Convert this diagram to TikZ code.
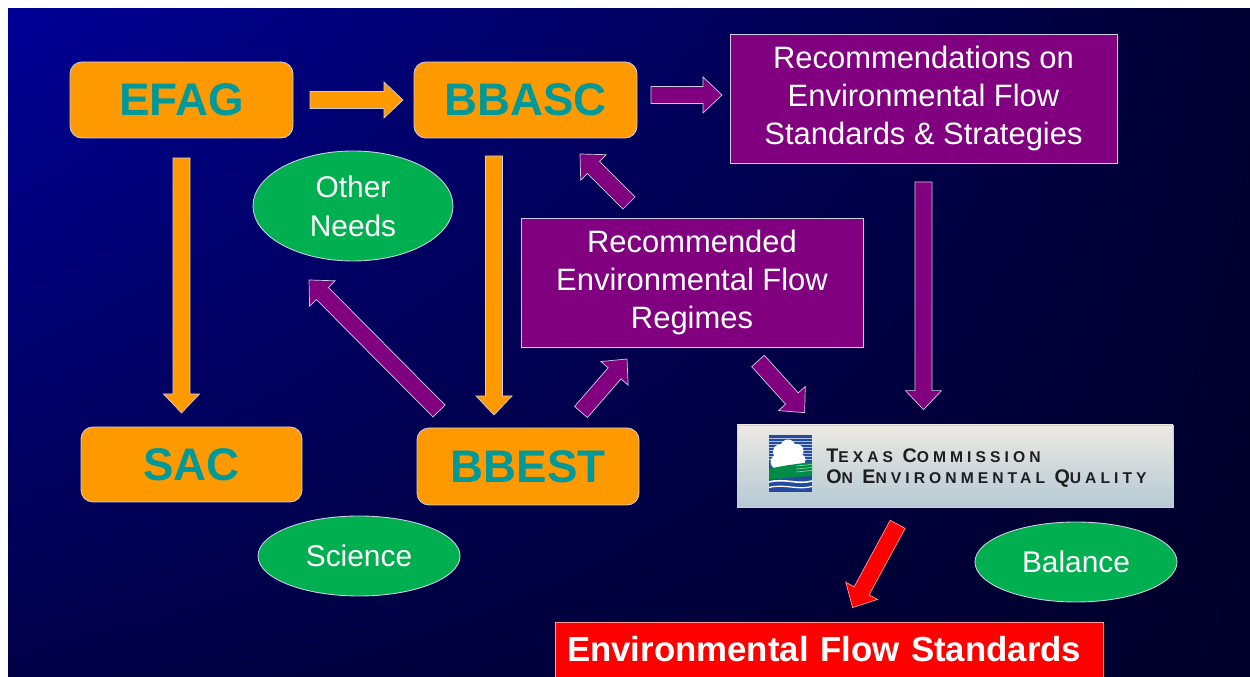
\documentclass[tikz,border=0pt]{standalone}
\usepackage{fontspec}
\setmainfont{Liberation Sans}
\newfontfamily\tceqfont[LetterSpace=26]{Liberation Sans}
\usepackage{tikz}
\usetikzlibrary{
  calc,
  positioning,
  shadings,
  shapes.geometric}

\definecolor{bgtl}{RGB}{0,0,150}
\definecolor{bgtr}{RGB}{0,0,50}
\definecolor{bgbl}{RGB}{0,0,72}
\definecolor{bgbr}{RGB}{0,0,42}
\definecolor{agencyorange}{RGB}{255,153,0}
\definecolor{agencyteal}{RGB}{0,153,153}
\definecolor{reportpurple}{RGB}{128,0,128}
\definecolor{themegreen}{RGB}{0,176,80}
\definecolor{edgegrey}{RGB}{205,205,225}
\definecolor{tceqlight}{RGB}{236,233,226}
\definecolor{tceqsky}{RGB}{182,202,212}
\definecolor{logoblue}{RGB}{35,75,160}
\definecolor{logogreen}{RGB}{0,140,70}
\definecolor{tceqtext}{RGB}{30,30,30}

\tikzset{
  agency/.style={rectangle, rounded corners=0.24cm, fill=agencyorange, draw=edgegrey,
    line width=0.5pt, text=agencyteal, inner sep=0pt, outer sep=0pt,
    font=\fontsize{26}{30}\selectfont\bfseries},
  report/.style={rectangle, fill=reportpurple, draw=edgegrey, line width=0.5pt,
    text=white, align=center, inner sep=0pt, outer sep=0pt,
    font=\fontsize{17.6}{21.5}\selectfont},
  theme/.style={ellipse, fill=themegreen, draw=edgegrey, line width=0.5pt,
    text=white, align=center, inner sep=0pt, outer sep=0pt,
    font=\fontsize{17}{22}\selectfont},
  orangearrow/.style={fill=agencyorange, draw=edgegrey, line width=0.4pt},
  purplearrow/.style={fill=reportpurple, draw=edgegrey, line width=0.4pt},
  redarrow/.style={fill=red, draw=red!40!white, line width=0.4pt}
}

% block arrow: style, from, to, cut at start, cut at end
\newcommand{\flowarrow}[5]{%
  \coordinate (fa-a) at ($(#2)!#4!(#3)$);
  \coordinate (fa-b) at ($(#3)!#5!(#2)$);
  \coordinate (fa-c) at ($(fa-b)!0.38cm!(fa-a)$);
  \filldraw[#1] ($(fa-a)!0.17cm!90:(fa-b)$) -- ($(fa-c)!0.17cm!90:(fa-b)$)
    -- ($(fa-c)!0.36cm!90:(fa-b)$) -- (fa-b) -- ($(fa-c)!0.36cm!-90:(fa-b)$)
    -- ($(fa-c)!0.17cm!-90:(fa-b)$) -- ($(fa-a)!0.17cm!-90:(fa-b)$) -- cycle;
}
\newcommand{\tcap}[2]{{\fontsize{11.2}{13}\selectfont #1}{\fontsize{8.9}{10}\selectfont #2}}

\begin{document}
\begin{tikzpicture}
  \fill[white] (0,0) rectangle (25,13.54);
  \shade[upper left=bgtl, upper right=bgtr, lower left=bgbl, lower right=bgbr]
    (0.16,0) rectangle (25,13.36);
  \useasboundingbox (0,0) rectangle (25,13.54);

  % agencies
  \node[agency, minimum width=4.46cm, minimum height=1.52cm] (efag) at (3.63,11.54) {EFAG};
  \node[agency, minimum width=4.46cm, minimum height=1.52cm] (bbasc) at (10.51,11.54) {BBASC};
  \node[agency, minimum width=4.42cm, minimum height=1.50cm] (sac) at (3.83,4.25) {SAC};
  \node[agency, minimum width=4.44cm, minimum height=1.54cm] (bbest) at (10.56,4.21) {BBEST};

  % reports
  \node[report, minimum width=7.74cm, minimum height=2.58cm] (recs) at (18.47,11.57)
    {Recommendations on\\Environmental Flow\\Standards \& Strategies};
  \node[report, minimum width=6.84cm, minimum height=2.58cm] (regimes) at (13.84,7.89)
    {Recommended\\Environmental Flow\\Regimes};

  % themes
  \node[theme, minimum width=4.0cm, minimum height=2.2cm] (other) at (7.06,9.42) {Other\\Needs};
  \node[theme, minimum width=4.04cm, minimum height=1.6cm] (science) at (7.18,2.42) {Science};
  \node[theme, minimum width=4.04cm, minimum height=1.6cm] (balance) at (21.52,2.30) {Balance};

  % commission
  \node[rectangle, minimum width=8.72cm, minimum height=1.64cm, draw=edgegrey, line width=0.4pt,
    top color=tceqlight, middle color=tceqlight, bottom color=tceqsky] (tceq) at (19.1,4.22) {};
  \fill[logoblue] (15.38,3.70) rectangle (16.24,4.84);
  \foreach \y in {4.78,4.72,4.66,4.60,4.54,4.48,4.42,4.36}
    \draw[white!65!logoblue, line width=0.3pt] (15.38,\y) -- (16.24,\y);
  \fill[white] (15.62,4.50) circle (0.16) (15.76,4.60) circle (0.15) (15.93,4.52) circle (0.14)
    (15.99,4.34) circle (0.12) (15.55,4.30) circle (0.14) (15.76,4.38) circle (0.22);
  \fill[logogreen] (15.38,4.16) .. controls (15.70,4.24) and (15.95,4.26) .. (16.24,4.30)
    -- (16.24,4.02) .. controls (15.90,4.00) and (15.60,3.96) .. (15.38,3.96) -- cycle;
  \foreach \y in {4.22,4.16,4.10}
    \draw[white!55!logogreen, line width=0.4pt] (15.92,\y) -- (16.24,\y+0.03);
  \draw[white, line width=0.9pt] (15.38,3.90) .. controls (15.70,3.98) and (15.95,3.84) .. (16.24,3.92);
  \draw[white, line width=0.7pt] (15.38,3.79) .. controls (15.70,3.87) and (15.95,3.73) .. (16.24,3.81);
  \node[anchor=base west, inner sep=0pt, text=tceqtext, font=\tceqfont\bfseries] (tceq1)
    at (16.52,4.28) {\tcap{T}{EXAS} \tcap{C}{OMMISSION}};
  \node[anchor=base west, inner sep=0pt, text=tceqtext, font=\tceqfont\bfseries] (tceq2)
    at (16.52,3.86) {\tcap{O}{N} \tcap{E}{NVIRONMENTAL} \tcap{Q}{UALITY}};

  % standards
  \node[rectangle, fill=red, draw=red!40!white, line width=0.5pt, minimum width=10.96cm,
    minimum height=1.10cm, inner sep=0pt, text width=10.48cm, align=left, text=white,
    font=\fontsize{19.8}{24}\selectfont\bfseries]
    (efs) at (16.58,0.55) {Environmental Flow Standards};

  % arrow ends
  \coordinate (bbasc-out) at ([yshift=0.1cm]bbasc.east);
  \coordinate (bbasc-down) at ([xshift=-0.63cm]bbasc.south);
  \coordinate (a6s) at ($(bbest.north west)+(0.44,0.34)$);
  \coordinate (a6e) at ($(other.center)+(-0.88,-1.48)$);
  \coordinate (a7s) at ($(bbest.north east)+(-1.16,0.32)$);
  \coordinate (a7e) at ($(regimes.south west)+(2.12,-0.24)$);
  \coordinate (a8s) at ($(regimes.north west)+(2.16,0.30)$);
  \coordinate (a8e) at ($(bbasc.south east)+(-1.14,-0.32)$);
  \coordinate (a9s) at ($(regimes.south east)+(-2.10,-0.28)$);
  \coordinate (a9e) at ($(tceq.north west)+(1.36,0.24)$);
  \coordinate (a10s) at ($(tceq.south west)+(3.22,-0.34)$);
  \coordinate (a10e) at ($(efs.north west)+(5.96,0.28)$);

  % arrows
  \flowarrow{orangearrow}{efag.east}{bbasc.west}{0.34cm}{0.22cm}
  \flowarrow{orangearrow}{efag.south}{efag.south |- sac.north}{0.40cm}{0.28cm}
  \flowarrow{orangearrow}{bbasc-down}{bbasc-down |- bbest.north}{0.36cm}{0.26cm}
  \flowarrow{purplearrow}{bbasc-out}{bbasc-out -| recs.west}{0.28cm}{0.16cm}
  \flowarrow{purplearrow}{recs.south}{recs.south |- tceq.north}{0.38cm}{0.30cm}
  \flowarrow{purplearrow}{a6s}{a6e}{0cm}{0cm}
  \flowarrow{purplearrow}{a7s}{a7e}{0cm}{0cm}
  \flowarrow{purplearrow}{a8s}{a8e}{0cm}{0cm}
  \flowarrow{purplearrow}{a9s}{a9e}{0cm}{0cm}
  \flowarrow{redarrow}{a10s}{a10e}{0cm}{0cm}
\end{tikzpicture}
\end{document}
